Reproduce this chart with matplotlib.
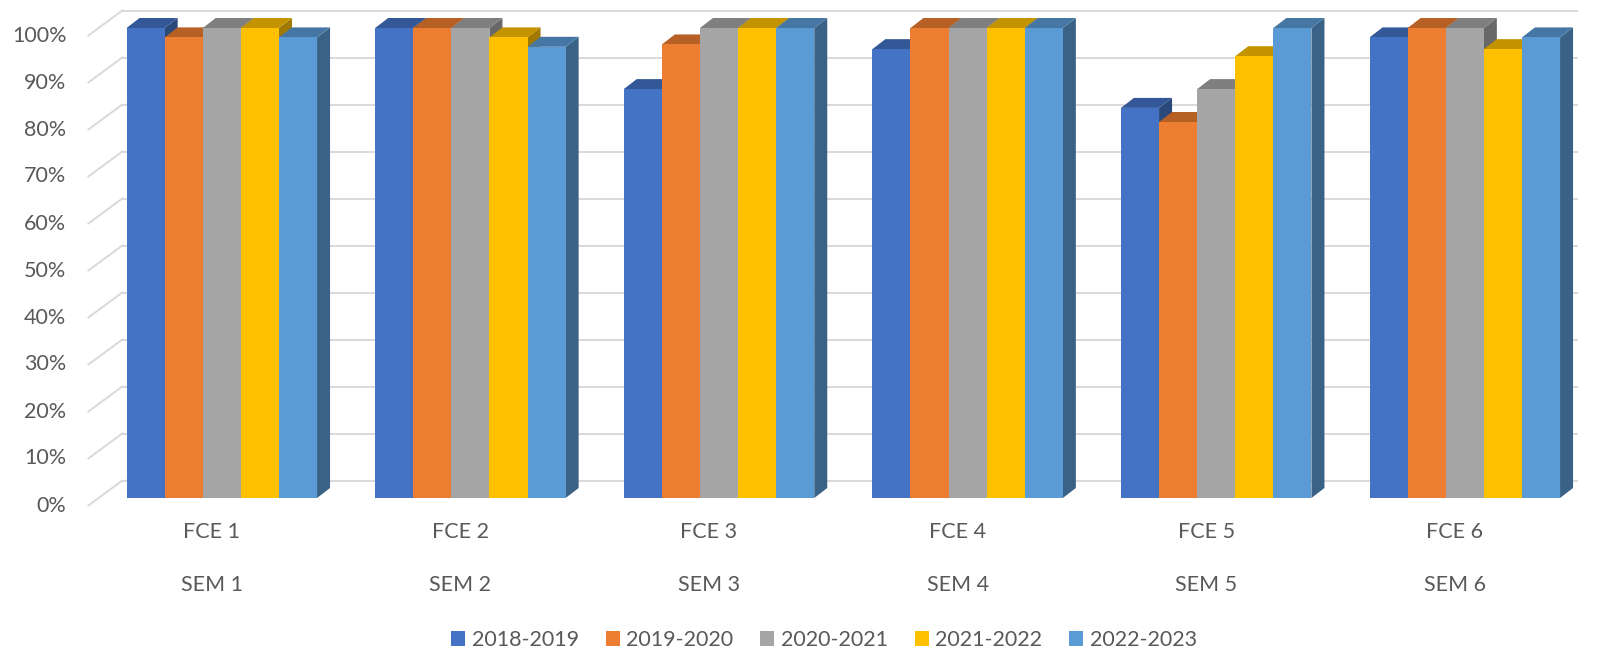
import numpy as np
import matplotlib
matplotlib.use("Agg")
import matplotlib.pyplot as plt
from matplotlib.patches import Polygon, Patch
from matplotlib.colors import to_rgb

# pass rates per course, one list per school year
fce_labels = ["FCE 1", "FCE 2", "FCE 3", "FCE 4", "FCE 5", "FCE 6"]
sem_labels = ["SEM 1", "SEM 2", "SEM 3", "SEM 4", "SEM 5", "SEM 6"]
years = ["2018-2019", "2019-2020", "2020-2021", "2021-2022", "2022-2023"]
y2018 = [1.00, 1.00, 0.87, 0.955, 0.83, 0.98]
y2019 = [0.98, 1.00, 0.965, 1.00, 0.80, 1.00]
y2020 = [1.00, 1.00, 1.00, 1.00, 0.87, 1.00]
y2021 = [1.00, 0.98, 1.00, 1.00, 0.94, 0.955]
y2022 = [0.98, 0.96, 1.00, 1.00, 1.00, 0.98]
series = [y2018, y2019, y2020, y2021, y2022]
colors = ["#4472C4", "#ED7D31", "#A5A5A5", "#FFC000", "#5B9BD5"]
yticks = np.arange(0, 1.01, 0.1)

text_col = "#595959"
grid_col = "#D9D9D9"
plt.rcParams["font.family"] = ["Lato", "DejaVu Sans"]
fs = 15.5

fig = plt.figure(figsize=(16, 6.54), dpi=100)
ax = fig.add_axes([0, 0, 1, 1])
ax.set_axis_off()

# pixel scale of the original: one category = 248.6 px, 100% = 470 px
sx, sy = 248.6, 470.0
ax.set_xlim(-221.8 / sx, (1600 - 221.8) / sx)
ax.set_ylim((498 - 654) / sy, 498 / sy)

# fake 3d offsets
bar_dx, bar_dy = 13 / sx, 10 / sy         # depth of each column
wall_dx, wall_dy = 24 / sx, 17.5 / sy     # back wall behind the column front
front_dx, front_dy = -10 / sx, -7.5 / sy  # front edge of the floor

# gridlines on back wall + slanted side-wall lines
x_wall0 = -0.4
x_wall1 = (1577 - 221.8) / sx
for v in yticks:
    ax.plot([x_wall0, x_wall1], [v + wall_dy, v + wall_dy], color=grid_col, lw=1.4, zorder=1)
    ax.plot([x_wall0 - (wall_dx - front_dx), x_wall0], [v + front_dy, v + wall_dy],
            color=grid_col, lw=1.4, zorder=1)
    ax.text(x_wall0 - (wall_dx - front_dx) - 22 / sx, v + front_dy, f"{v:.0%}",
            ha="right", va="center", fontsize=fs, color=text_col)

w = 38.1 / sx
x = np.arange(len(fce_labels))

def shade(c, f):
    return tuple(np.array(to_rgb(c)) * f)

z = 2
for i, (vals, col) in enumerate(zip(series, colors)):
    lefts = x + (i - 2.5) * w
    for l, v in zip(lefts, vals):
        r = l + w
        side = Polygon([(r, 0), (r, v), (r + bar_dx, v + bar_dy), (r + bar_dx, bar_dy)],
                       closed=True, fc=shade(col, 0.63), ec="none", zorder=z + i * 3)
        top = Polygon([(l, v), (r, v), (r + bar_dx, v + bar_dy), (l + bar_dx, v + bar_dy)],
                      closed=True, fc=shade(col, 0.77), ec="none", zorder=z + i * 3 + 1)
        ax.add_patch(side)
        ax.add_patch(top)
    ax.bar(lefts, vals, width=w, align="edge", color=col, zorder=z + i * 3 + 2)

# two-level category labels
for xi, f_lab, s_lab in zip(x, fce_labels, sem_labels):
    ax.text(xi - 10 / sx, (498 - 532) / sy, f_lab, ha="center", va="center",
            fontsize=fs, color=text_col)
    ax.text(xi - 10 / sx, (498 - 585) / sy, s_lab, ha="center", va="center",
            fontsize=fs, color=text_col)

handles = [Patch(facecolor=c, edgecolor="none") for c in colors]
fig.legend(handles, years, loc="center", bbox_to_anchor=(824 / 1600, 1 - 640 / 654),
           ncol=5, frameon=False, fontsize=fs, labelcolor=text_col,
           handlelength=0.65, handleheight=0.65, handletextpad=0.3, columnspacing=1.25)

fig.savefig("out.png", dpi=100)
